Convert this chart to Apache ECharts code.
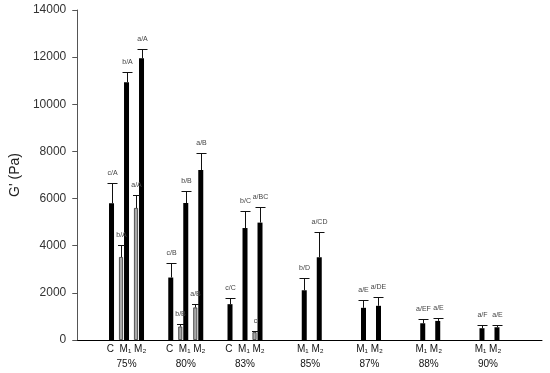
<!DOCTYPE html>
<html><head><meta charset="utf-8">
<script src="https://cdn.jsdelivr.net/npm/echarts@6/dist/echarts.min.js"></script>
<style>html,body{margin:0;padding:0;background:#fff}#c{width:550px;height:373px}</style>
</head><body><div id="c"></div>
<script>
// ---- data ----
const categories = ['75%', '80%', '83%', '85%', '87%', '88%', '90%'];
const hasC = [true, true, true, false, false, false, false];

const cBlack      = [5800, 2650, 1520, null, null, null, null];
const cBlackErr   = [860, 610, 280, null, null, null, null];
const cBlackLbl   = ['c/A', 'c/B', 'c/C', '', '', '', ''];

const m1Gray      = [3520, 570, null, null, null, null, null];
const m1GrayErr   = [530, 115, null, null, null, null, null];
const m1GrayLbl   = ['b/A', 'b/B', '', '', '', '', ''];

const m1Black     = [10940, 5810, 4750, 2110, 1365, 710, 500];
const m1BlackErr  = [450, 510, 720, 525, 340, 185, 145];
const m1BlackLbl  = ['b/A', 'b/B', 'b/C', 'b/D', 'a/E', 'a/EF', 'a/F'];

const m2Gray      = [5600, 1380, 330, null, null, null, null];
const m2GrayErr   = [550, 160, 45, null, null, null, null];
const m2GrayLbl   = ['a/A', 'a/B', 'c', '', '', '', ''];

const m2Black     = [11950, 7210, 4980, 3510, 1450, 810, 540];
const m2BlackErr  = [400, 720, 680, 1075, 380, 130, 100];
const m2BlackLbl  = ['a/A', 'a/B', 'a/BC', 'a/CD', 'a/DE', 'a/E', 'a/E'];

const yMin = 0, yMax = 14000, yStep = 2000;

// ---- layout / style ----
const BLACK = '#000000', GRAY = '#a8a8a8';
const slots = [
  { name: 'C',        data: cBlack,  err: cBlackErr,  lbl: cBlackLbl,  w: 5, kind: 'black' },
  { w: 5 },
  { name: 'M1 (grey)', data: m1Gray, err: m1GrayErr,  lbl: m1GrayLbl,  w: 4, kind: 'gray' },
  { w: 1 },
  { name: 'M1',       data: m1Black, err: m1BlackErr, lbl: m1BlackLbl, w: 5, kind: 'black' },
  { w: 5 },
  { name: 'M2 (grey)', data: m2Gray, err: m2GrayErr,  lbl: m2GrayLbl,  w: 4, kind: 'gray' },
  { w: 1 },
  { name: 'M2',       data: m2Black, err: m2BlackErr, lbl: m2BlackLbl, w: 5, kind: 'black' }
];
const total = slots.reduce((s, o) => s + o.w, 0);
let acc = 0;
slots.forEach(o => { o.off = acc + o.w / 2 - total / 2; acc += o.w; });

const FONT = 'Liberation Sans, Arial, sans-serif';
const series = [];
slots.forEach((o) => {
  if (!o.data) {
    series.push({ type: 'bar', xAxisIndex: 1, yAxisIndex: 1, barWidth: o.w, barGap: '0%',
      data: categories.map(() => '-'), silent: true, itemStyle: { color: 'transparent' } });
    return;
  }
  series.push({
    type: 'bar', name: o.name, xAxisIndex: 1, yAxisIndex: 1, barWidth: o.w, barGap: '0%',
    data: o.data.map(v => v == null ? '-' : v),
    itemStyle: o.kind === 'gray'
      ? { color: GRAY, borderColor: '#333', borderWidth: 0.8 }
      : { color: BLACK },
    z: 2
  });
  const pts = [], lbls = [];
  o.data.forEach((v, i) => { if (v != null) { pts.push([i, v, o.err[i]]); lbls.push(o.lbl[i]); } });
  const cap = o.kind === 'gray' ? 7 : 10;
  series.push({
    type: 'custom', xAxisIndex: 1, yAxisIndex: 1, clip: false, z: 3, silent: true,
    data: pts,
    renderItem: function (params, api) {
      const i = api.value(0), v = api.value(1), e = api.value(2);
      const p0 = api.coord([i, v]);
      const p1 = api.coord([i, v + e]);
      const x = Math.round(p0[0] + o.off) + 0.5;
      const yt = Math.round(p1[1]) + 0.5;
      return {
        type: 'group',
        children: [
          { type: 'line', shape: { x1: x, y1: p0[1], x2: x, y2: yt }, style: { stroke: '#111', lineWidth: 1 } },
          { type: 'line', shape: { x1: x - cap / 2, y1: yt, x2: x + cap / 2, y2: yt }, style: { stroke: '#111', lineWidth: 1 } },
          { type: 'text', x: x, y: yt - 7,
            style: { text: lbls[params.dataIndex], fill: '#444', fontSize: 7,
                     fontFamily: FONT, align: 'center', verticalAlign: 'bottom' } }
        ]
      };
    }
  });
});

const chart = echarts.init(document.getElementById('c'), null, { renderer: 'canvas' });
chart.setOption({
  animation: false,
  backgroundColor: '#ffffff',
  grid: [
    { left: 67, right: 8, top: 10, bottom: 33 },
    { left: 96.9, right: 38.4, top: 10, bottom: 33 }
  ],
  xAxis: [
    { gridIndex: 0, type: 'value', min: 0, max: 1,
      axisLine: { show: true, lineStyle: { color: '#000', width: 1 } },
      axisTick: { show: false }, axisLabel: { show: false }, splitLine: { show: false } },
    { gridIndex: 1, type: 'category', data: categories,
      axisLine: { show: false }, axisTick: { show: false }, splitLine: { show: false },
      axisLabel: {
        interval: 0, margin: 2, color: '#111',
        fontFamily: FONT, fontSize: 10, lineHeight: 15,
        formatter: function (val, idx) {
          if (hasC[idx]) return '{a|C  M\u2081 M\u2082}\n{a|' + val + '}';
          return '{p|}{a|M\u2081 M\u2082}\n{p|}{a|' + val + '}';
        },
        rich: {
          a: { fontSize: 10, lineHeight: 15, color: '#111', fontFamily: FONT },
          p: { width: 12, lineHeight: 15 }
        }
      } }
  ],
  yAxis: [
    { gridIndex: 0, type: 'value', min: yMin, max: yMax, interval: yStep,
      name: "G' (Pa)", nameLocation: 'middle', nameGap: 45, nameRotate: 90,
      nameTextStyle: { fontSize: 14, color: '#222', fontFamily: FONT },
      axisLine: { show: true, lineStyle: { color: '#555', width: 1 } },
      axisTick: { show: true, inside: false, length: 5, lineStyle: { color: '#555' } },
      axisLabel: { margin: 11, fontSize: 12, color: '#333', fontFamily: FONT,
                   formatter: function (v) { return String(v); } },
      splitLine: { show: false } },
    { gridIndex: 1, type: 'value', min: yMin, max: yMax, interval: yStep, show: false,
      splitLine: { show: false } }
  ],
  series: series
});
</script>
</body></html>
